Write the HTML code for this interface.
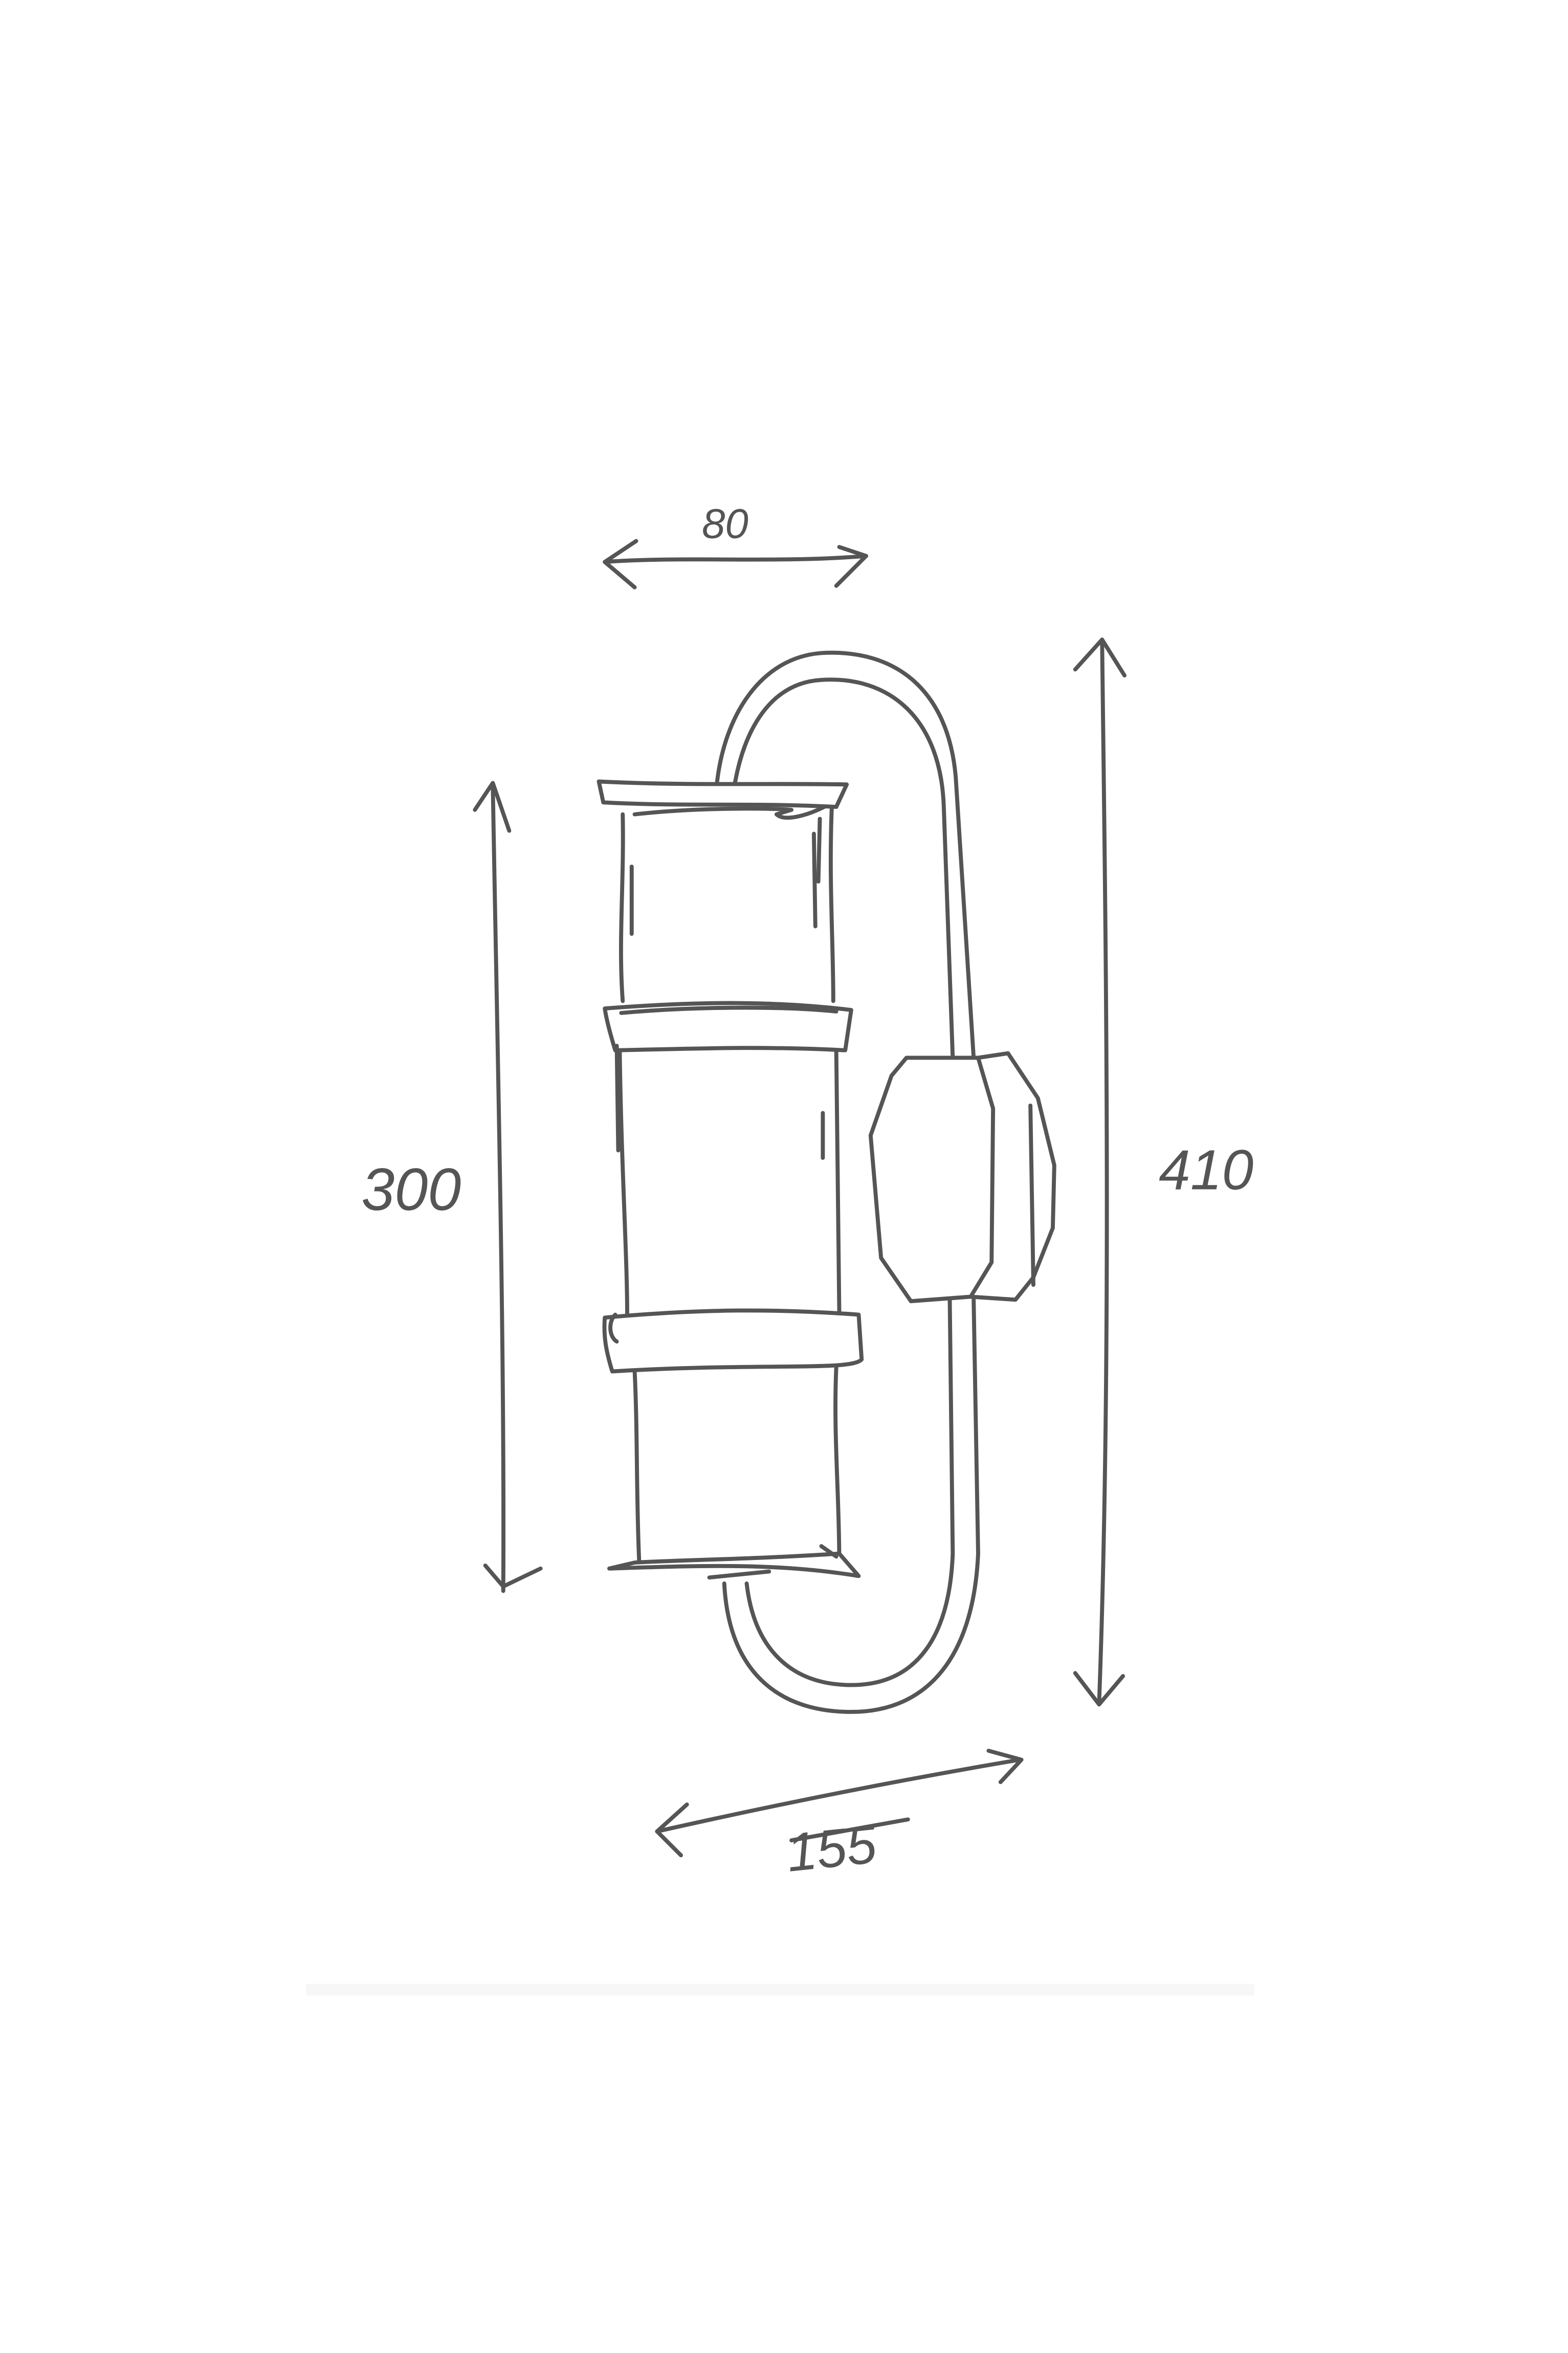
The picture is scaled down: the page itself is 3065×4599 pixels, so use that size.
<!DOCTYPE html>
<html><head><meta charset="utf-8"><style>
html,body{margin:0;padding:0;background:#fff;}
svg{display:block;}
text{font-family:"Liberation Sans",sans-serif;font-style:italic;fill:#555;}
</style></head><body>
<svg width="3065" height="4599" viewBox="0 0 1050 1575" xmlns="http://www.w3.org/2000/svg">
<rect width="1050" height="1575" fill="#fff"/>
<rect x="205" y="1328" width="635" height="8" fill="#f7f7f7"/>
<g fill="none" stroke="#555" stroke-width="2.7" stroke-linecap="round" stroke-linejoin="round">
<!-- 80 arrow -->
<path d="M405,376 C460,372 520,377 580,372"/>
<path d="M426,362 L405,376 L425,393"/>
<path d="M562,366 L580,372 L560,392"/>
<!-- 410 arrow -->
<path d="M738,428 C740,600 745,900 736,1140"/>
<path d="M720,448 L738,428 L753,452"/>
<path d="M720,1120 L736,1141 L752,1122"/>
<!-- 300 arrow -->
<path d="M330,525 C333,700 338,900 337,1065"/>
<path d="M318,542 L330,524 L341,556"/>
<path d="M325,1048 L337,1062 L362,1050"/>
<!-- 155 arrow -->
<path d="M440,1226 C520,1208 600,1192 683,1178"/>
<path d="M460,1208 L440,1226 L456,1242"/>
<path d="M662,1172 L684,1178 L670,1193"/>
<path d="M530,1232 L608,1218"/>
<!-- arc top -->
<path d="M480,525 C485,478 510,440 550,437 C600,434 635,462 640,520 L652,708"/>
<path d="M492,525 C498,490 515,457 550,455 C595,452 630,480 632,540 L638,708"/>
<!-- arc bottom -->
<path d="M485,1060 C488,1118 520,1146 570,1146 C622,1146 652,1108 655,1040 L652,870"/>
<path d="M500,1060 C505,1104 530,1128 570,1128 C615,1128 636,1094 638,1040 L636,870"/>
<!-- back plate -->
<path d="M607,708 L655,708 L665,742 L664,845 L650,868 L610,871 L590,842 L583,760 L597,720 Z"/>
<path d="M655,708 L675,705 L695,735 L706,780 L705,822 L692,855 L680,870 L650,868"/>
<path d="M690,740 L692,860"/>
<!-- top rim -->
<path d="M401,523 C460,526 520,524 567,525 L560,540 C500,537 460,540 404,537 Z" fill="#fff"/>
<path d="M425,545 C470,540 520,541 530,542 L520,545 C525,550 540,546 552,540"/>
<!-- body 1 -->
<path d="M417,545 C418,590 414,630 417,670"/>
<path d="M557,540 C555,590 558,630 558,670"/>
<path d="M423,580 L423,625"/>
<path d="M545,558 L546,620"/>
<path d="M549,548 L548,590"/>
<!-- ring 1 -->
<path d="M405,675 C470,670 520,670 570,676 L566,703 C510,700 460,702 412,703 C408,690 406,682 405,675 Z" fill="#fff"/>
<path d="M416,678 C460,674 520,673 560,677"/>
<!-- body 2 -->
<path d="M415,703 C416,780 420,840 420,880"/>
<path d="M560,703 C561,780 562,840 562,878"/>
<path d="M413,700 L414,770"/>
<path d="M551,745 L551,775"/>
<!-- ring 2 -->
<path d="M405,882 C470,876 520,876 575,880 L577,910 C570,918 510,912 410,918 C406,905 404,895 405,882 Z" fill="#fff"/>
<path d="M412,880 C407,885 408,895 413,898"/>
<!-- body 3 -->
<path d="M425,918 C427,960 426,1000 428,1045"/>
<path d="M560,915 C558,960 562,1000 562,1045"/>
<!-- bottom rim -->
<path d="M408,1050 C470,1048 520,1046 575,1055 L562,1040 C500,1044 460,1044 425,1046 Z" fill="#fff"/>
<path d="M475,1056 L515,1052"/>
<path d="M550,1035 L560,1042"/>
</g>
<text x="470" y="360" font-size="28">80</text>
<text x="242" y="810" font-size="40">300</text>
<text x="776" y="796" font-size="38">410</text>
<text x="527" y="1250" font-size="36" transform="rotate(-6 555 1240)">155</text>
</svg>
</body></html>
